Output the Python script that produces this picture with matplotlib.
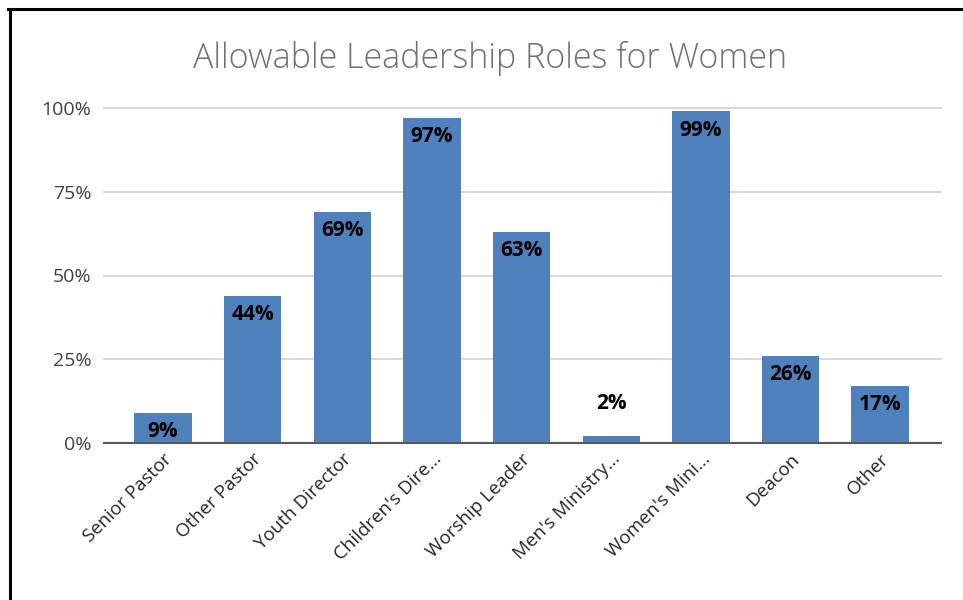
import matplotlib
matplotlib.use("Agg")
import matplotlib.pyplot as plt
from matplotlib.lines import Line2D

categories = ["Senior Pastor", "Other Pastor", "Youth Director", "Children's Dire...",
              "Worship Leader", "Men's Ministry...", "Women's Mini...", "Deacon", "Other"]
values = [9, 44, 69, 97, 63, 2, 99, 26, 17]
yticks = [0, 25, 50, 75, 100]
ytick_labels = ["0%", "25%", "50%", "75%", "100%"]
title = "Allowable Leadership Roles for Women"

plt.rcParams['font.family'] = ['Open Sans', 'DejaVu Sans']

W, H = 963, 600
fig = plt.figure(figsize=(W / 100, H / 100), dpi=100)
ax = fig.add_axes([104 / W, 1 - 443 / H, (941 - 104) / W, (443 - 108) / H])

x = list(range(len(categories)))
ax.bar(x, values, width=0.64, color="#4F81BD", zorder=3)

for xi, v in zip(x, values):
    if v >= 5:
        ax.annotate(f"{v}%", (xi, v), xytext=(0, -6), textcoords="offset points",
                    ha="center", va="top", fontsize=15, fontweight="bold", color="black", zorder=4)
    else:
        ax.annotate(f"{v}%", (xi, v), xytext=(0, 16), textcoords="offset points",
                    ha="center", va="bottom", fontsize=15, fontweight="bold", color="black", zorder=4)

ax.set_xlim(-0.66, 8.68)
ax.set_ylim(0, 100)
ax.set_yticks(yticks)
ax.set_yticklabels(ytick_labels, fontsize=14, color="#404040")
ax.set_xticks(x)
ax.set_xticklabels(categories, rotation=45, ha="right", va="top", rotation_mode="anchor",
                   fontsize=13.5, color="#262626")
ax.tick_params(axis="both", length=0)
ax.tick_params(axis="y", pad=9)
ax.tick_params(axis="x", pad=5)

for s in ["top", "right", "left"]:
    ax.spines[s].set_visible(False)
ax.spines["bottom"].set_color("#595959")
ax.spines["bottom"].set_linewidth(1.5)
ax.spines["bottom"].set_zorder(5)
ax.yaxis.grid(True, color="#D9D9D9", linewidth=1.5, zorder=0)
ax.set_axisbelow(True)
for gl in ax.yaxis.get_gridlines():
    gl.set_clip_on(False)

fig.text(490 / W, 1 - 58 / H, title, ha="center", va="center", fontsize=24.5,
         color="#707070", fontweight="light")

fig.add_artist(Line2D([8 / W, 1], [1 - 9 / H, 1 - 9 / H], color="black", lw=2.2))
fig.add_artist(Line2D([10 / W, 10 / W], [0, 1 - 9 / H], color="black", lw=2.2))

fig.savefig("out.png", dpi=100)
